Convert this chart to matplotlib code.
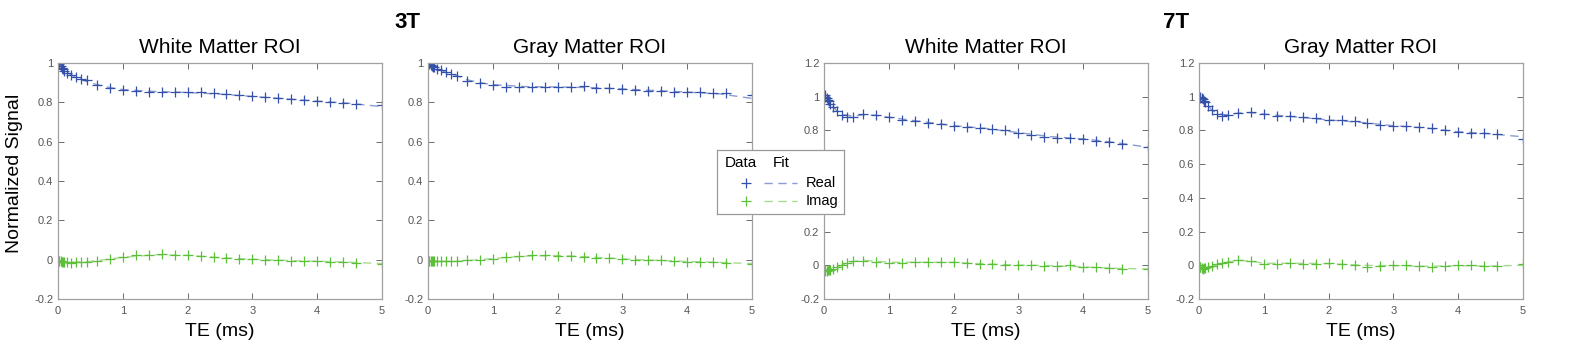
import matplotlib
matplotlib.use('Agg')
import matplotlib.pyplot as plt

plt.rcParams['font.family'] = ['Liberation Sans', 'DejaVu Sans']

# echo times of the samples (ms)
TE = [0.01, 0.02, 0.04, 0.06, 0.08, 0.1, 0.14, 0.2, 0.28, 0.36, 0.44,
      0.6, 0.8, 1.0, 1.2, 1.4, 1.6, 1.8, 2.0, 2.2, 2.4, 2.6, 2.8, 3.0,
      3.2, 3.4, 3.6, 3.8, 4.0, 4.2, 4.4, 4.6, 5.0]
TE_FIT = [0, 0.1, 0.2, 0.3, 0.45, 0.6, 0.8, 1.0, 1.5, 2.0, 2.5, 3.0, 3.5, 4.0, 4.5, 5.0]

# 3T white matter
wm3_real = [1.0, 0.995, 0.985, 0.975, 0.968, 0.96, 0.95, 0.94, 0.93, 0.92, 0.912,
            0.888, 0.875, 0.862, 0.857, 0.855, 0.853, 0.852, 0.851, 0.85, 0.845, 0.84,
            0.835, 0.83, 0.825, 0.82, 0.816, 0.811, 0.808, 0.803, 0.798, 0.793, 0.785]
wm3_imag = [-0.005, -0.006, -0.008, -0.01, -0.01, -0.01, -0.012, -0.015, -0.012, -0.011, -0.01,
            -0.005, 0.002, 0.015, 0.022, 0.025, 0.027, 0.025, 0.022, 0.018, 0.015, 0.008,
            0.004, 0.003, 0.0, -0.002, -0.005, -0.006, -0.007, -0.01, -0.012, -0.015, -0.02]
wm3_real_fit = [1.0, 0.962, 0.94, 0.925, 0.905, 0.89, 0.875, 0.865, 0.855, 0.85, 0.842,
                0.83, 0.818, 0.806, 0.795, 0.778]
wm3_imag_fit = [-0.005, -0.01, -0.013, -0.013, -0.01, -0.005, 0.003, 0.012, 0.025, 0.022,
                0.01, 0.002, -0.004, -0.008, -0.013, -0.02]

# 3T gray matter
gm3_real = [1.0, 0.995, 0.99, 0.985, 0.982, 0.98, 0.972, 0.964, 0.953, 0.942, 0.935,
            0.909, 0.897, 0.888, 0.88, 0.88, 0.88, 0.88, 0.88, 0.879, 0.883, 0.873,
            0.873, 0.87, 0.863, 0.86, 0.856, 0.853, 0.853, 0.85, 0.847, 0.845, 0.835]
gm3_imag = [-0.005, -0.005, -0.006, -0.007, -0.008, -0.008, -0.009, -0.009, -0.009, -0.009, -0.008,
            -0.003, -0.002, 0.005, 0.015, 0.017, 0.022, 0.022, 0.02, 0.017, 0.012, 0.008,
            0.006, 0.002, 0.0, -0.002, -0.004, -0.007, -0.01, -0.01, -0.012, -0.017, -0.02]
gm3_real_fit = [1.0, 0.98, 0.963, 0.95, 0.935, 0.915, 0.9, 0.89, 0.88, 0.878, 0.875,
                0.868, 0.86, 0.852, 0.843, 0.82]
gm3_imag_fit = [-0.005, -0.008, -0.009, -0.009, -0.008, -0.005, 0.0, 0.006, 0.018, 0.021,
                0.014, 0.004, -0.003, -0.009, -0.014, -0.02]

# 7T white matter
wm7_real = [1.008, 0.998, 0.99, 0.98, 0.972, 0.958, 0.94, 0.913, 0.891, 0.881, 0.882,
            0.897, 0.893, 0.879, 0.863, 0.855, 0.847, 0.838, 0.828, 0.822, 0.812, 0.81,
            0.8, 0.786, 0.77, 0.762, 0.756, 0.755, 0.752, 0.74, 0.729, 0.719, 0.699]
wm7_imag = [-0.03, -0.032, -0.035, -0.03, -0.027, -0.025, -0.02, -0.012, 0.0, 0.015, 0.026,
            0.028, 0.022, 0.015, 0.012, 0.02, 0.018, 0.018, 0.017, 0.012, 0.008, 0.005,
            0.0, 0.001, 0.0, -0.002, -0.002, -0.001, -0.01, -0.012, -0.018, -0.022, -0.022]
wm7_real_fit = [1.01, 0.96, 0.915, 0.893, 0.885, 0.893, 0.89, 0.878, 0.853, 0.828, 0.812,
                0.787, 0.763, 0.75, 0.728, 0.7]
wm7_imag_fit = [-0.03, -0.022, -0.01, 0.003, 0.022, 0.03, 0.025, 0.018, 0.018, 0.017,
                0.008, 0.001, -0.002, -0.01, -0.018, -0.022]

# 7T gray matter
gm7_real = [1.0, 0.995, 0.99, 0.985, 0.977, 0.97, 0.946, 0.92, 0.897, 0.885, 0.892,
            0.906, 0.91, 0.897, 0.887, 0.883, 0.881, 0.871, 0.861, 0.859, 0.855, 0.845,
            0.834, 0.828, 0.826, 0.822, 0.812, 0.8, 0.788, 0.786, 0.783, 0.777, 0.749]
gm7_imag = [-0.01, -0.012, -0.015, -0.02, -0.015, -0.015, -0.01, -0.005, 0.01, 0.012, 0.02,
            0.033, 0.025, 0.01, 0.01, 0.013, 0.01, 0.01, 0.012, 0.008, 0.0, -0.012,
            -0.005, 0.0, 0.0, -0.005, -0.01, -0.003, 0.0, 0.002, -0.005, -0.005, 0.005]
gm7_real_fit = [1.0, 0.967, 0.92, 0.897, 0.892, 0.903, 0.906, 0.897, 0.88, 0.862, 0.848,
                0.828, 0.815, 0.792, 0.78, 0.762]
gm7_imag_fit = [-0.01, -0.014, -0.006, 0.008, 0.02, 0.03, 0.024, 0.012, 0.012, 0.01,
                0.0, -0.002, -0.006, -0.002, -0.005, 0.0]

PANELS = [
    ('White Matter ROI', wm3_real, wm3_imag, wm3_real_fit, wm3_imag_fit, (-0.2, 1.0)),
    ('Gray Matter ROI', gm3_real, gm3_imag, gm3_real_fit, gm3_imag_fit, (-0.2, 1.0)),
    ('White Matter ROI', wm7_real, wm7_imag, wm7_real_fit, wm7_imag_fit, (-0.2, 1.2)),
    ('Gray Matter ROI', gm7_real, gm7_imag, gm7_real_fit, gm7_imag_fit, (-0.2, 1.2)),
]

BLUE = '#3550a8'
GREEN = '#5cbf3a'
BLUE_FIT = '#8a9cd2'
GREEN_FIT = '#a6dc90'
W, H = 1586, 345

fig = plt.figure(figsize=(W / 100, H / 100), dpi=100)

lefts = [58, 428, 824, 1199]
for left, (title, real, imag, real_fit, imag_fit, ylim) in zip(lefts, PANELS):
    ax = fig.add_axes([left / W, 46 / H, 324 / W, 236 / H])
    ax.plot(TE_FIT, real_fit, '--', color=BLUE_FIT, lw=1.0, dashes=(6, 4))
    ax.plot(TE_FIT, imag_fit, '--', color=GREEN_FIT, lw=1.0, dashes=(6, 4))
    ax.plot(TE, real, '+', color=BLUE, ms=7, mew=0.9)
    ax.plot(TE, imag, '+', color=GREEN, ms=7, mew=0.9)
    ax.set_xlim(0, 5)
    ax.set_ylim(*ylim)
    yt = [v / 10 for v in range(-2, int(round(ylim[1] * 10)) + 1, 2)]
    ax.set_yticks(yt)
    ax.set_yticklabels(['%g' % v for v in yt])
    ax.tick_params(direction='in', top=True, right=True, labelsize=8,
                   colors='#555555', length=4, width=0.6)
    ax.tick_params(axis='x', pad=5)
    for s in ax.spines.values():
        s.set_color('#a0a0a0')
        s.set_linewidth(0.9)
    ax.set_title(title, fontsize=15, pad=7)
    ax.set_xlabel('TE (ms)', fontsize=14, labelpad=5)
    ax.patch.set_alpha(0)

fig.text(15 / W, 172 / H, 'Normalized Signal', rotation=90, fontsize=14,
         ha='center', va='center')
fig.text(407 / W, 1 - 23 / H, '3T', fontsize=16, fontweight='bold', ha='center', va='center')
fig.text(1176 / W, 1 - 23 / H, '7T', fontsize=16, fontweight='bold', ha='center', va='center')

# legend box drawn in pixel units
lg = fig.add_axes([717 / W, (H - 214) / H, 127 / W, 64 / H], zorder=5)
lg.set_xlim(0, 127)
lg.set_ylim(64, 0)
lg.set_xticks([])
lg.set_yticks([])
for s in lg.spines.values():
    s.set_color('#9a9a9a')
    s.set_linewidth(0.9)
lg.text(8, 13, 'Data', fontsize=11, va='center')
lg.text(56, 13, 'Fit', fontsize=11, va='center')
lg.plot([29], [33], '+', color=BLUE, ms=7, mew=0.9)
lg.plot([29], [51], '+', color=GREEN, ms=7, mew=0.9)
lg.plot([47, 80], [33, 33], '--', color=BLUE_FIT, lw=1.0, dashes=(6, 4))
lg.plot([47, 80], [51, 51], '--', color=GREEN_FIT, lw=1.0, dashes=(6, 4))
lg.text(89, 33, 'Real', fontsize=10.5, va='center')
lg.text(89, 51, 'Imag', fontsize=10.5, va='center')

fig.savefig('out.png', dpi=100)
